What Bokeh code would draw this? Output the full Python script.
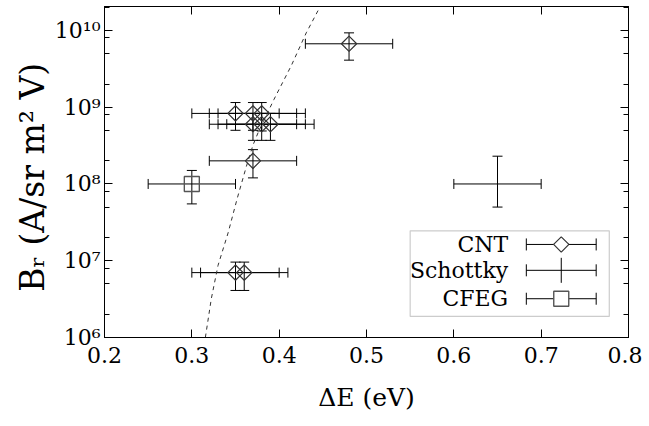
import numpy as np
from bokeh.plotting import figure
from bokeh.models import (ColumnDataSource, Range1d, FixedTicker, LogAxis, LinearAxis,
                          Whisker, TeeHead, Label, BoxAnnotation, CustomJSTickFormatter)
from bokeh.embed import file_html
from bokeh.resources import INLINE

# ---------------- data ----------------
cnt_x    = [0.48, 0.35, 0.37, 0.38, 0.37, 0.38, 0.39, 0.37, 0.35, 0.36]
cnt_y    = [6.7e9, 8.3e8, 8.3e8, 8.3e8, 6.0e8, 6.0e8, 6.0e8, 2.0e8, 7.0e6, 7.0e6]
cnt_xerr = [0.05, 0.05, 0.05, 0.05, 0.05, 0.05, 0.05, 0.05, 0.05, 0.05]
cnt_ylo  = [4.1e9, 5.0e8, 5.0e8, 4.9e8, 3.7e8, 3.7e8, 3.7e8, 1.2e8, 4.1e6, 4.1e6]
cnt_yhi  = [9.3e9, 1.15e9, 1.15e9, 1.15e9, 8.3e8, 8.3e8, 8.3e8, 2.8e8, 9.6e6, 9.6e6]

sch_x    = [0.65]
sch_y    = [1.0e8]
sch_xerr = [0.05]
sch_ylo  = [5.0e7]
sch_yhi  = [2.3e8]

cfeg_x    = [0.30]
cfeg_y    = [1.0e8]
cfeg_xerr = [0.05]
cfeg_ylo  = [5.5e7]
cfeg_yhi  = [1.5e8]

curve_x = [0.3155, 0.3223, 0.330, 0.3415, 0.352, 0.3625, 0.370, 0.376, 0.394, 0.414, 0.431, 0.4465]
curve_y = [1.0e6, 3.2e6, 8.7e6, 2.3e7, 6.5e7, 1.7e8, 3.2e8, 4.7e8, 1.26e9, 3.5e9, 9.3e9, 2.0e10]

x_ticks = [0.2, 0.3, 0.4, 0.5, 0.6, 0.7, 0.8]
y_ticks = [1e6, 1e7, 1e8, 1e9, 1e10]
y_tick_labels = ["10\u2076", "10\u2077", "10\u2078", "10\u2079", "10\u00b9\u2070"]
y_minor = [m * 10.0 ** e for e in range(6, 11) for m in (2, 5, 8)]

legend_labels = ["CNT", "Schottky", "CFEG"]

# ---------------- figure ----------------
FONT = "DejaVu Serif"
p = figure(frame_width=524, frame_height=331, x_range=Range1d(0.2, 0.8), y_range=Range1d(1e6, 2.05e10),
           y_axis_type="log", output_backend="svg", toolbar_location=None,
           min_border_left=104, min_border_right=14, min_border_top=6, min_border_bottom=80)
p.xgrid.visible = False
p.ygrid.visible = False
p.outline_line_color = "black"
p.background_fill_color = "white"
p.border_fill_color = "white"

def style_axis(ax, labels=True):
    ax.axis_line_color = "black"
    ax.major_tick_in = 8
    ax.major_tick_out = 0
    ax.minor_tick_in = 5
    ax.minor_tick_out = 0
    ax.major_tick_line_color = "black"
    ax.minor_tick_line_color = "black"
    if labels:
        ax.major_label_text_font = FONT
        ax.major_label_text_font_size = "22px"
        ax.major_label_text_color = "black"
        ax.axis_label_text_font = FONT
        ax.axis_label_text_font_style = "normal"
        ax.axis_label_text_color = "black"
    else:
        ax.major_label_text_font_size = "0px"
        ax.major_label_standoff = 0
        ax.axis_label_standoff = 0
        ax.formatter = CustomJSTickFormatter(code="return ''")

xa = p.xaxis[0]
xa.ticker = FixedTicker(ticks=x_ticks, minor_ticks=[])
style_axis(xa)
xa.axis_label = "\u0394E (eV)"
xa.axis_label_text_font_size = "25px"
xa.major_label_standoff = 9
xa.axis_label_standoff = 17

ya = p.yaxis[0]
ya.ticker = FixedTicker(ticks=y_ticks, minor_ticks=y_minor)
style_axis(ya)
ya.major_label_overrides = {v: s for v, s in zip(y_ticks, y_tick_labels)}
ya.axis_label = "B\u1d63  (A/sr m\u00b2 V)"
ya.axis_label_text_font_size = "33px"
ya.major_label_standoff = 4
ya.axis_label_standoff = 0

top = LinearAxis(ticker=FixedTicker(ticks=x_ticks, minor_ticks=[]))
style_axis(top, labels=False)
p.add_layout(top, "above")
right = LogAxis(ticker=FixedTicker(ticks=y_ticks, minor_ticks=y_minor))
style_axis(right, labels=False)
p.add_layout(right, "right")

# ---------------- theory curve ----------------
p.line(curve_x, curve_y, line_color="#333333", line_width=1, line_dash="4 4")

# ---------------- error bars ----------------
def add_errors(xs, ys, xerr, ylo, yhi, cap=10):
    src = ColumnDataSource(dict(
        x=xs, y=ys,
        xl=[a - e for a, e in zip(xs, xerr)], xh=[a + e for a, e in zip(xs, xerr)],
        yl=ylo, yh=yhi))
    p.add_layout(Whisker(source=src, base="y", lower="xl", upper="xh", dimension="width",
                         line_color="black", line_width=1,
                         lower_head=TeeHead(size=cap, line_color="black", line_width=1),
                         upper_head=TeeHead(size=cap, line_color="black", line_width=1)))
    p.add_layout(Whisker(source=src, base="x", lower="yl", upper="yh", dimension="height",
                         line_color="black", line_width=1,
                         lower_head=TeeHead(size=cap, line_color="black", line_width=1),
                         upper_head=TeeHead(size=cap, line_color="black", line_width=1)))
    return src

cnt_src = add_errors(cnt_x, cnt_y, cnt_xerr, cnt_ylo, cnt_yhi)
add_errors(sch_x, sch_y, sch_xerr, sch_ylo, sch_yhi)
cfeg_src = add_errors(cfeg_x, cfeg_y, cfeg_xerr, cfeg_ylo, cfeg_yhi)

p.scatter("x", "y", source=cnt_src, marker="square", angle=np.pi / 4, size=10.8,
          fill_color=None, line_color="#333333", line_width=1.2)
p.scatter("x", "y", source=cfeg_src, marker="square", size=15,
          fill_color=None, line_color="#555555", line_width=1.4)

# ---------------- legend (drawn manually: label left, sample right) ----------------
LEG_L, LEG_R, LEG_B, LEG_T = 0.5500, 0.7780, 1.88e6, 2.45e7
LEG_TEXT_X = 0.6622
LEG_S0, LEG_S1, LEG_SC = 0.683, 0.763, 0.723
LEG_ROWS = [1.63e7, 7.5e6, 3.2e6]

p.add_layout(BoxAnnotation(left=LEG_L, right=LEG_R, bottom=LEG_B, top=LEG_T,
                           fill_color=None, fill_alpha=0.0,
                           line_color="#555555", line_width=1.2, level="underlay"))
for lab, yy in zip(legend_labels, LEG_ROWS):
    p.add_layout(Label(x=LEG_TEXT_X, y=yy, text=lab, text_align="right", text_baseline="middle",
                       text_font=FONT, text_font_size="22px", text_color="black"))
leg_src = ColumnDataSource(dict(y=LEG_ROWS, lo=[LEG_S0] * 3, hi=[LEG_S1] * 3))
p.add_layout(Whisker(source=leg_src, base="y", lower="lo", upper="hi", dimension="width",
                     line_color="black", line_width=1,
                     lower_head=TeeHead(size=12, line_color="black", line_width=1),
                     upper_head=TeeHead(size=12, line_color="black", line_width=1)))
leg_cnt = ColumnDataSource(dict(x=[LEG_SC], y=[LEG_ROWS[0]]))
leg_sch = ColumnDataSource(dict(x=[LEG_SC], y=[LEG_ROWS[1]]))
leg_cfeg = ColumnDataSource(dict(x=[LEG_SC], y=[LEG_ROWS[2]]))
p.scatter("x", "y", source=leg_cnt, marker="square", angle=np.pi / 4, size=10.8,
          fill_color="white", line_color="#333333", line_width=1.2)
p.scatter("x", "y", source=leg_sch, marker="dash", angle=np.pi / 2, size=25,
          line_color="black", line_width=1)
p.scatter("x", "y", source=leg_cfeg, marker="square", size=15,
          fill_color="white", line_color="#555555", line_width=1.4)

open("out.html", "w").write(file_html(p, INLINE))
